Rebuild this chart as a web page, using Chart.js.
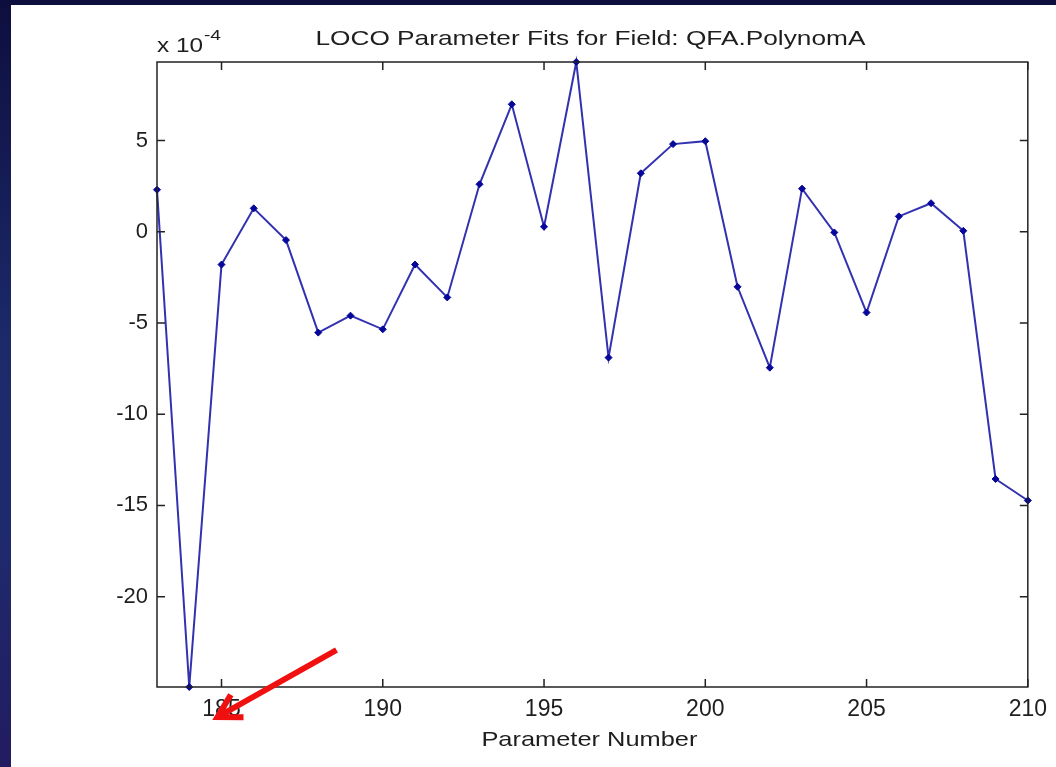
<!DOCTYPE html>
<html>
<head>
<meta charset="utf-8">
<script src="https://cdn.jsdelivr.net/npm/chart.js@4.4.1/dist/chart.umd.min.js"></script>
<style>
  html, body { margin: 0; padding: 0; }
  body {
    width: 1056px; height: 767px; overflow: hidden; position: relative;
    background: linear-gradient(180deg, #0e0e3e 0%, #1c2a6a 45%, #1f2a6c 70%, #221b60 100%);
  }
  #panel { position: absolute; left: 11px; top: 5px; width: 1045px; height: 762px; background: #fff; }
  #chart { display: block; }
</style>
</head>
<body>
<div id="panel"><canvas id="chart" width="1045" height="762"></canvas></div>
<script>
// parameter numbers and fitted values (x 10^-4)
var paramNumbers = [183, 184, 185, 186, 187, 188, 189, 190, 191, 192, 193, 194, 195, 196,
                    197, 198, 199, 200, 201, 202, 203, 204, 205, 206, 207, 208, 209, 210];
var fitValues = [2.3, -24.95, -1.8, 1.28, -0.46, -5.53, -4.6, -5.35, -1.8, -3.6, 2.6, 6.98, 0.27, 9.3,
                 -6.9, 3.2, 4.8, 4.96, -3.02, -7.45, 2.36, -0.04, -4.43, 0.84, 1.56, 0.05, -13.55, -14.73];

var xTicks = [185, 190, 195, 200, 205, 210];
var yTicks = [-20, -15, -10, -5, 0, 5];

var chartTitle = 'LOCO Parameter Fits for Field: QFA.PolynomA';
var xTitle = 'Parameter Number';

var textColor = '#1e1e1e';
var fontFamily = '"Liberation Sans", Arial, Helvetica, sans-serif';

var points = paramNumbers.map(function (p, i) { return { x: p, y: fitValues[i] }; });

// the old figure's text is drawn wide, so stretch it to the width it has there
function wideText(ctx, text, x, y, size, width, align) {
    ctx.save();
    ctx.font = size + 'px ' + fontFamily;
    var sx = width / ctx.measureText(text).width;
    var left = align === 'center' ? x - width / 2 : x;
    ctx.translate(left, y);
    ctx.scale(sx, 1);
    ctx.textAlign = 'left';
    ctx.textBaseline = 'alphabetic';
    ctx.fillText(text, 0, 0);
    ctx.restore();
}

// axes box, inward ticks, titles and the red arrow
var matlabFrame = {
    id: 'matlabFrame',
    afterDatasetsDraw: function (chart) {
        var ctx = chart.ctx;
        var a = chart.chartArea;
        var xs = chart.scales.x;
        var ys = chart.scales.y;
        var tl = 8;

        ctx.save();
        ctx.strokeStyle = '#222';
        ctx.lineWidth = 1.5;
        ctx.strokeRect(a.left, a.top, a.right - a.left, a.bottom - a.top);

        ctx.beginPath();
        xTicks.forEach(function (v) {
            var px = xs.getPixelForValue(v);
            ctx.moveTo(px, a.bottom); ctx.lineTo(px, a.bottom - tl);
            ctx.moveTo(px, a.top); ctx.lineTo(px, a.top + tl);
        });
        yTicks.forEach(function (v) {
            var py = ys.getPixelForValue(v);
            ctx.moveTo(a.left, py); ctx.lineTo(a.left + tl, py);
            ctx.moveTo(a.right, py); ctx.lineTo(a.right - tl, py);
        });
        ctx.stroke();

        var cx = (a.left + a.right) / 2;
        ctx.fillStyle = textColor;
        wideText(ctx, chartTitle, cx - 2, a.top - 17, 21, 550, 'center');
        wideText(ctx, xTitle, cx - 3, a.bottom + 59, 21, 216, 'center');

        // exponent label
        wideText(ctx, 'x 10', a.left, a.top - 10, 20, 46, 'left');
        wideText(ctx, '-4', a.left + 47, a.top - 22, 15, 17, 'left');

        // red arrow pointing at the 185 label
        var tipX = xs.getPixelForValue(185) - 4;
        var tipY = a.bottom + 30;
        var tailX = tipX + 119, tailY = tipY - 67;
        var ang = Math.atan2(tailY - tipY, tailX - tipX);
        var hl = 26;
        ctx.strokeStyle = '#f01010';
        ctx.lineWidth = 6;
        ctx.lineCap = 'butt';
        ctx.beginPath();
        ctx.moveTo(tailX, tailY);
        ctx.lineTo(tipX, tipY);
        ctx.moveTo(tipX + hl * Math.cos(ang - 0.52), tipY + hl * Math.sin(ang - 0.52));
        ctx.lineTo(tipX, tipY);
        ctx.lineTo(tipX + hl * Math.cos(ang + 0.52), tipY + hl * Math.sin(ang + 0.52));
        ctx.stroke();
        ctx.restore();
    }
};

new Chart(document.getElementById('chart'), {
    type: 'line',
    data: {
        datasets: [{
            data: points,
            borderColor: '#3232b0',
            borderWidth: 2,
            pointStyle: 'rectRot',
            pointRadius: 3.5,
            pointBackgroundColor: '#06069a',
            pointBorderColor: '#06069a',
            pointBorderWidth: 1,
            tension: 0,
            clip: false
        }]
    },
    options: {
        responsive: false,
        animation: false,
        events: [],
        layout: { padding: { left: 0, top: 57, right: 28, bottom: 0 } },
        plugins: { legend: { display: false }, tooltip: { enabled: false }, title: { display: false } },
        scales: {
            x: {
                type: 'linear',
                min: paramNumbers[0],
                max: paramNumbers[paramNumbers.length - 1],
                grid: { display: false, drawTicks: false },
                border: { display: false },
                afterBuildTicks: function (s) { s.ticks = xTicks.map(function (v) { return { value: v }; }); },
                afterFit: function (s) { s.height = 80; },
                ticks: {
                    padding: 9,
                    color: textColor,
                    font: { family: fontFamily, size: 23 },
                    maxRotation: 0,
                    callback: function (v) { return String(v); }
                }
            },
            y: {
                type: 'linear',
                min: Math.min.apply(null, fitValues),
                max: Math.max.apply(null, fitValues),
                grid: { display: false, drawTicks: false },
                border: { display: false },
                afterBuildTicks: function (s) { s.ticks = yTicks.map(function (v) { return { value: v }; }); },
                afterFit: function (s) { s.width = 146; },
                ticks: {
                    padding: 9,
                    color: textColor,
                    font: { family: fontFamily, size: 22 },
                    callback: function (v) { return String(v); }
                }
            }
        }
    },
    plugins: [matlabFrame]
});
</script>
</body>
</html>
